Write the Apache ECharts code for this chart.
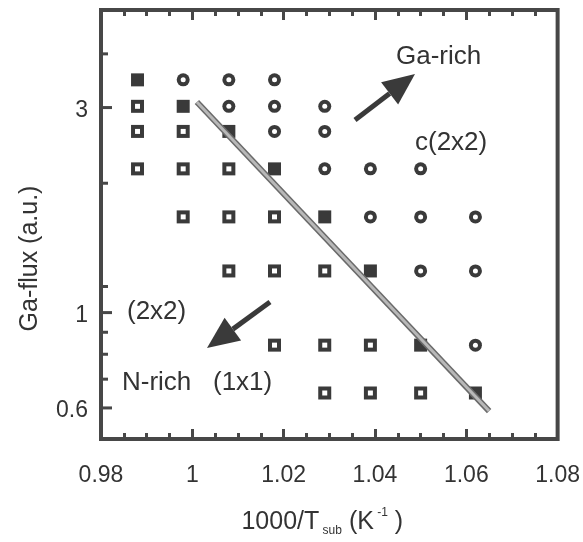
<!DOCTYPE html>
<html>
<head>
<meta charset="utf-8">
<script src="https://cdn.jsdelivr.net/npm/echarts@6/dist/echarts.min.js"></script>
<style>
  html, body { margin: 0; padding: 0; background: #fff; }
  #chart { width: 583px; height: 542px; }
</style>
</head>
<body>
<div id="chart"></div>
<script>
// 1000/T_sub (K^-1) of each substrate-temperature column
const invTemp = [0.988, 0.998, 1.008, 1.018, 1.029, 1.039, 1.050, 1.062];
// Ga flux (a.u.) of each row, top to bottom
const gaFlux = [3.48, 3.02, 2.64, 2.16, 1.67, 1.25, 0.84, 0.65];
// Surface seen at each (flux row, temperature column):
// o = open square, f = filled square, c = ring, - = not measured
const phaseRows = [
  'fccc----',
  'ofccc---',
  'oofcc---',
  'ooofccc-',
  '-ooofccc',
  '--ooofcc',
  '---ooofc',
  '----ooof'
];
// Phase boundary drawn across the diagram
const boundaryX = [1.001, 1.065];
const boundaryY = [3.09, 0.59];
// Axis ranges and tick values
const xRange = [0.98, 1.08];
const xStep = 0.02;
const yRange = [0.508, 5.06];
const yMajorTicks = [0.6, 1, 3];
const yMinorTicks = [0.7, 0.8, 0.9, 1.15, 2, 4];

const FONT = 'Liberation Sans';
const INK = '#3a3a3a';
const FRAME = '#474747';
const TEXT = '#333';

const openPts = [], filledPts = [], ringPts = [];
phaseRows.forEach((row, r) => {
  row.split('').forEach((ch, c) => {
    const pt = [invTemp[c], gaFlux[r]];
    if (ch === 'o') openPts.push(pt);
    else if (ch === 'f') filledPts.push(pt);
    else if (ch === 'c') ringPts.push(pt);
  });
});

const yTickData = yMajorTicks.map(v => [xRange[0], v, 1])
  .concat(yMinorTicks.map(v => [xRange[0], v, 0]));

const tickStyle = { color: FRAME, width: 3 };

function xAxisDef(pos, showLabels) {
  return {
    type: 'value', position: pos, min: xRange[0], max: xRange[1], interval: xStep,
    axisLine: { show: false },
    axisTick: { show: true, inside: true, length: 10, lineStyle: tickStyle },
    minorTick: { show: true, splitNumber: 4, length: 6, lineStyle: tickStyle },
    splitLine: { show: false },
    minorSplitLine: { show: false },
    axisLabel: {
      show: showLabels, margin: 25, color: TEXT, fontFamily: FONT, fontSize: 23,
      formatter: v => String(Math.round(v * 100) / 100)
    },
    name: showLabels ? '{m|1000/T}{s| sub}{m| (K}{p| -1}{m| )}' : '',
    nameLocation: 'middle',
    nameGap: 68,
    nameTextStyle: {
      color: TEXT, fontFamily: FONT, fontSize: 25,
      padding: [0, 14, 0, 0],
      rich: {
        m: { fontSize: 25, fontFamily: FONT, color: TEXT, lineHeight: 30 },
        s: { fontSize: 12, fontFamily: FONT, color: TEXT, verticalAlign: 'bottom', lineHeight: 30 },
        p: { fontSize: 12, fontFamily: FONT, color: TEXT, verticalAlign: 'top', lineHeight: 22 }
      }
    }
  };
}

function arrow(tail, tip, headLen, headHalf) {
  const dx = tip[0] - tail[0], dy = tip[1] - tail[1];
  const len = Math.hypot(dx, dy);
  const ux = dx / len, uy = dy / len;
  const bx = tip[0] - ux * headLen, by = tip[1] - uy * headLen;
  const px = -uy * headHalf, py = ux * headHalf;
  return {
    type: 'group',
    children: [
      { type: 'line', shape: { x1: tail[0], y1: tail[1], x2: bx, y2: by },
        style: { stroke: INK, lineWidth: 5 } },
      { type: 'polygon', shape: { points: [tip, [bx + px, by + py], [bx - px, by - py]] },
        style: { fill: INK } }
    ]
  };
}

function note(text, x, y) {
  return {
    type: 'text', x: x, y: y,
    style: { text: text, fill: TEXT, font: '26px "' + FONT + '"', align: 'left', verticalAlign: 'middle' }
  };
}

const markStyle = c => ({ color: c, opacity: 1 });

const chart = echarts.init(document.getElementById('chart'), null, { renderer: 'canvas' });
chart.setOption({
  animation: false,
  backgroundColor: '#fff',
  grid: {
    left: 101, right: 25, top: 10, bottom: 101,
    show: true, borderWidth: 4, borderColor: FRAME, backgroundColor: 'transparent'
  },
  xAxis: [xAxisDef('bottom', true), xAxisDef('top', false)],
  yAxis: {
    type: 'log', logBase: 10, min: yRange[0], max: yRange[1],
    axisLine: { show: false }, axisTick: { show: false },
    axisLabel: { show: false }, splitLine: { show: false },
    name: 'Ga-flux (a.u.)', nameLocation: 'middle', nameGap: 58, nameRotate: 90,
    nameTextStyle: { color: TEXT, fontFamily: FONT, fontSize: 25, padding: [0, 68, 0, 0] }
  },
  series: [
    { type: 'scatter', data: openPts, symbol: 'rect', symbolSize: 13,
      itemStyle: markStyle(INK), silent: true },
    { type: 'scatter', data: openPts, symbol: 'rect', symbolSize: 5,
      itemStyle: markStyle('#fff'), silent: true },
    { type: 'scatter', data: filledPts, symbol: 'rect', symbolSize: 13,
      itemStyle: markStyle(INK), silent: true },
    { type: 'scatter', data: ringPts, symbol: 'circle', symbolSize: 13,
      itemStyle: markStyle(INK), silent: true },
    { type: 'scatter', data: ringPts, symbol: 'circle', symbolSize: 5,
      itemStyle: markStyle('#fff'), silent: true },
    { type: 'line', data: boundaryX.map((x, i) => [x, boundaryY[i]]), symbol: 'none',
      lineStyle: { color: '#6a6a6a', width: 6 }, silent: true, z: 5 },
    { type: 'line', data: boundaryX.map((x, i) => [x, boundaryY[i]]), symbol: 'none',
      lineStyle: { color: '#b8b8b8', width: 3 }, silent: true, z: 6 },
    {
      type: 'custom', data: yTickData, encode: { x: 0, y: 1 }, clip: false, silent: true, z: 10,
      renderItem: (params, api) => {
        const p = api.coord([api.value(0), api.value(1)]);
        const major = api.value(2) === 1;
        const children = [{
          type: 'rect',
          shape: { x: p[0], y: p[1] - 1.5, width: major ? 11 : 7, height: 3 },
          style: { fill: FRAME }
        }];
        if (major) {
          children.push({
            type: 'text', x: p[0] - 13, y: p[1] + 3,
            style: { text: String(api.value(1)), fill: TEXT, fontSize: 23, fontFamily: FONT,
                     align: 'right', verticalAlign: 'middle' }
          });
        }
        return { type: 'group', children: children };
      }
    }
  ],
  graphic: [
    arrow([355, 120], [415, 74], 32, 14),
    arrow([270, 302], [207, 348], 32, 14),
    note('Ga-rich', 396, 57),
    note('c(2x2)', 415, 143),
    note('(2x2)', 127, 312),
    note('N-rich   (1x1)', 122, 383)
  ]
});
</script>
</body>
</html>
